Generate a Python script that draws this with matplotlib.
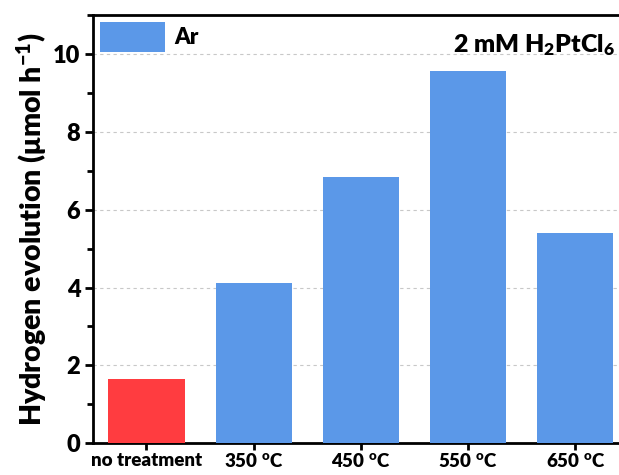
import matplotlib
matplotlib.use("Agg")
import matplotlib.pyplot as plt
from matplotlib.ticker import MultipleLocator
from matplotlib.patches import Patch

categories = ["no treatment", "350 $^{\\mathrm{o}}$C", "450 $^{\\mathrm{o}}$C", "550 $^{\\mathrm{o}}$C", "650 $^{\\mathrm{o}}$C"]
values = [1.65, 4.11, 6.84, 9.57, 5.39]
colors = ["#FF3C40", "#5B98E8", "#5B98E8", "#5B98E8", "#5B98E8"]

W = 'heavy'
plt.rcParams['font.family'] = ['Lato', 'DejaVu Sans']
plt.rcParams['font.weight'] = W
plt.rcParams['mathtext.fontset'] = 'custom'
plt.rcParams['mathtext.rm'] = 'Lato:heavy'
plt.rcParams['mathtext.it'] = 'Lato:heavy'
plt.rcParams['mathtext.bf'] = 'Lato:heavy'
plt.rcParams['mathtext.default'] = 'regular'

fig = plt.figure(figsize=(6.19, 4.75), dpi=100)
ax = fig.add_axes([0.150, 0.0667, 0.866, 0.902])

x = list(range(len(categories)))
ax.bar(x, values, width=0.71, color=colors, zorder=3)

ax.set_xlim(-0.5, 4.5)
ax.set_ylim(0, 11)
ax.yaxis.set_minor_locator(MultipleLocator(1))
ax.set_yticks([0, 2, 4, 6, 8, 10])
ax.set_xticks(x)
ax.set_xticklabels(categories, fontsize=13.5, fontweight=W)
ax.tick_params(axis='y', labelsize=17, width=2, length=6, direction='out', pad=3)
ax.tick_params(axis='y', which='minor', width=2, length=4, direction='out')
ax.tick_params(axis='x', width=2, length=5, direction='out', pad=1.5)
for lab in ax.get_yticklabels():
    lab.set_fontweight(W)

for s in ax.spines.values():
    s.set_linewidth(2)

ax.yaxis.grid(True, linestyle=(0, (3, 3)), color='#c8c8c8', linewidth=0.8, zorder=0)
ax.set_axisbelow(True)

ax.set_ylabel("Hydrogen evolution (μmol h$^{-1}$)", fontsize=20.5, fontweight=W, labelpad=3)

handle = Patch(facecolor="#5B98E8", edgecolor='none')
leg = ax.legend([handle], ["Ar"], loc='upper left', frameon=False,
                handlelength=2.95, handleheight=1.75, borderpad=0, borderaxespad=0.3,
                handletextpad=0.4, prop={'weight': W, 'size': 16})

ax.text(0.975, 0.93, "2 mM H$_2$PtCl$_6$", transform=ax.transAxes, ha='right', va='center',
        fontsize=18, fontweight=W)

fig.savefig("out.png", dpi=100)
